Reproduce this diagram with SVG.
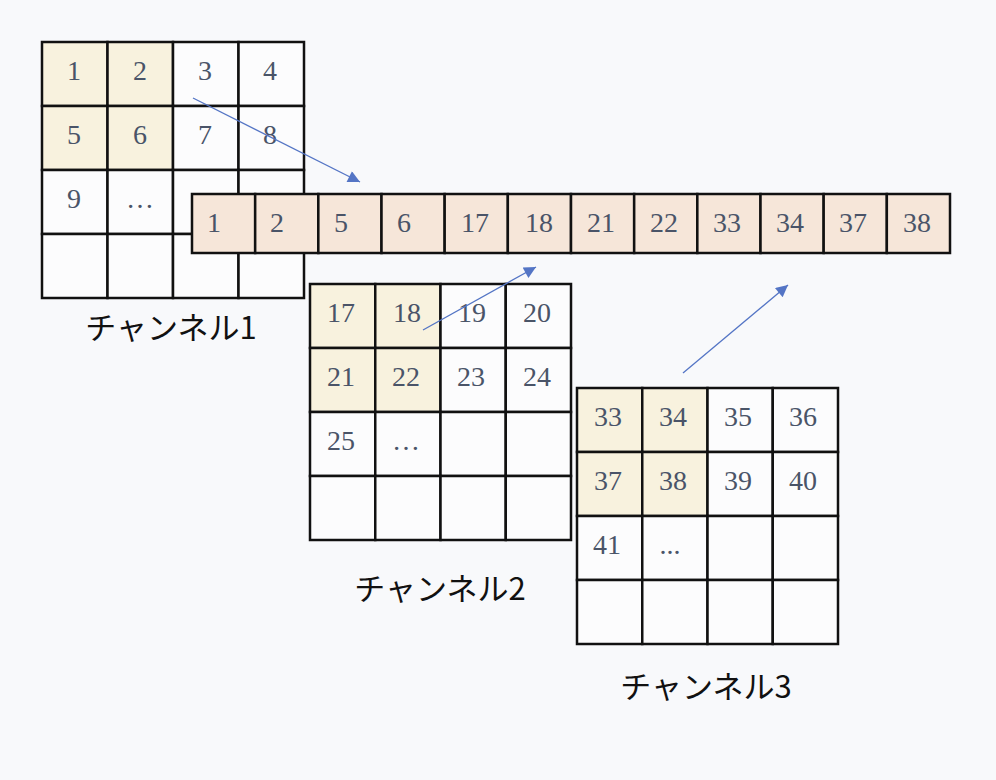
<svg xmlns="http://www.w3.org/2000/svg" width="996" height="780" viewBox="0 0 996 780">
<defs>
<style>
.c{fill:#fcfcfd;stroke:#111;stroke-width:2.5}
.h{fill:#f8f2de;stroke:#111;stroke-width:2.5}
.s{fill:#f6e6d9;stroke:#111;stroke-width:2.5}
.n{font-family:"Liberation Serif","Times New Roman",serif;font-size:28px;fill:#4a5468;text-anchor:middle}
.lb{font-family:"Noto Sans CJK JP","Noto Sans",sans-serif;font-size:31px;fill:#111;text-anchor:middle}
.a{stroke:#5475c5;stroke-width:1.3;fill:none;marker-end:url(#ah)}
</style>
<marker id="ah" viewBox="0 0 10 10" refX="10" refY="5" markerWidth="15" markerHeight="12" markerUnits="userSpaceOnUse" orient="auto">
<path d="M0,0L10,5L0,10z" fill="#5475c5"/>
</marker>
</defs>
<rect width="996" height="780" fill="#f8f9fb"/>

<g id="grid1">
<rect class="h" x="42" y="42" width="65.5" height="64"/>
<rect class="h" x="107.5" y="42" width="65.5" height="64"/>
<rect class="c" x="173" y="42" width="65.5" height="64"/>
<rect class="c" x="238.5" y="42" width="65.5" height="64"/>
<rect class="h" x="42" y="106" width="65.5" height="64"/>
<rect class="h" x="107.5" y="106" width="65.5" height="64"/>
<rect class="c" x="173" y="106" width="65.5" height="64"/>
<rect class="c" x="238.5" y="106" width="65.5" height="64"/>
<rect class="c" x="42" y="170" width="65.5" height="64"/>
<rect class="c" x="107.5" y="170" width="65.5" height="64"/>
<rect class="c" x="173" y="170" width="65.5" height="64"/>
<rect class="c" x="238.5" y="170" width="65.5" height="64"/>
<rect class="c" x="42" y="234" width="65.5" height="64"/>
<rect class="c" x="107.5" y="234" width="65.5" height="64"/>
<rect class="c" x="173" y="234" width="65.5" height="64"/>
<rect class="c" x="238.5" y="234" width="65.5" height="64"/>
<text class="n" x="74" y="80">1</text>
<text class="n" x="140" y="80">2</text>
<text class="n" x="205" y="80">3</text>
<text class="n" x="270" y="80">4</text>
<text class="n" x="74" y="144">5</text>
<text class="n" x="140" y="144">6</text>
<text class="n" x="205" y="144">7</text>
<text class="n" x="270" y="144">8</text>
<text class="n" x="74" y="208">9</text>
<text class="n" x="140" y="208">…</text>
<text class="lb" x="171" y="339">チャンネル1</text>
</g>

<g id="strip">
<rect class="s" x="192" y="194" width="63.17" height="59"/>
<rect class="s" x="255.17" y="194" width="63.17" height="59"/>
<rect class="s" x="318.33" y="194" width="63.17" height="59"/>
<rect class="s" x="381.5" y="194" width="63.17" height="59"/>
<rect class="s" x="444.67" y="194" width="63.17" height="59"/>
<rect class="s" x="507.83" y="194" width="63.17" height="59"/>
<rect class="s" x="571" y="194" width="63.17" height="59"/>
<rect class="s" x="634.17" y="194" width="63.17" height="59"/>
<rect class="s" x="697.33" y="194" width="63.17" height="59"/>
<rect class="s" x="760.5" y="194" width="63.17" height="59"/>
<rect class="s" x="823.67" y="194" width="63.17" height="59"/>
<rect class="s" x="886.83" y="194" width="63.17" height="59"/>
<text class="n" x="214" y="232">1</text>
<text class="n" x="277" y="232">2</text>
<text class="n" x="341" y="232">5</text>
<text class="n" x="404" y="232">6</text>
<text class="n" x="475" y="232">17</text>
<text class="n" x="539" y="232">18</text>
<text class="n" x="601" y="232">21</text>
<text class="n" x="664" y="232">22</text>
<text class="n" x="727" y="232">33</text>
<text class="n" x="790" y="232">34</text>
<text class="n" x="853" y="232">37</text>
<text class="n" x="917" y="232">38</text>
</g>

<g id="grid2">
<rect class="h" x="310" y="284" width="65.25" height="64"/>
<rect class="h" x="375.25" y="284" width="65.25" height="64"/>
<rect class="c" x="440.5" y="284" width="65.25" height="64"/>
<rect class="c" x="505.75" y="284" width="65.25" height="64"/>
<rect class="h" x="310" y="348" width="65.25" height="64"/>
<rect class="h" x="375.25" y="348" width="65.25" height="64"/>
<rect class="c" x="440.5" y="348" width="65.25" height="64"/>
<rect class="c" x="505.75" y="348" width="65.25" height="64"/>
<rect class="c" x="310" y="412" width="65.25" height="64"/>
<rect class="c" x="375.25" y="412" width="65.25" height="64"/>
<rect class="c" x="440.5" y="412" width="65.25" height="64"/>
<rect class="c" x="505.75" y="412" width="65.25" height="64"/>
<rect class="c" x="310" y="476" width="65.25" height="64"/>
<rect class="c" x="375.25" y="476" width="65.25" height="64"/>
<rect class="c" x="440.5" y="476" width="65.25" height="64"/>
<rect class="c" x="505.75" y="476" width="65.25" height="64"/>
<text class="n" x="341" y="322">17</text>
<text class="n" x="407" y="322">18</text>
<text class="n" x="472" y="322">19</text>
<text class="n" x="537" y="322">20</text>
<text class="n" x="341" y="386">21</text>
<text class="n" x="406" y="386">22</text>
<text class="n" x="471" y="386">23</text>
<text class="n" x="537" y="386">24</text>
<text class="n" x="341" y="450">25</text>
<text class="n" x="406" y="450">…</text>
<text class="lb" x="440" y="600">チャンネル2</text>
</g>

<g id="grid3">
<rect class="h" x="577" y="388" width="65.25" height="64"/>
<rect class="h" x="642.25" y="388" width="65.25" height="64"/>
<rect class="c" x="707.5" y="388" width="65.25" height="64"/>
<rect class="c" x="772.75" y="388" width="65.25" height="64"/>
<rect class="h" x="577" y="452" width="65.25" height="64"/>
<rect class="h" x="642.25" y="452" width="65.25" height="64"/>
<rect class="c" x="707.5" y="452" width="65.25" height="64"/>
<rect class="c" x="772.75" y="452" width="65.25" height="64"/>
<rect class="c" x="577" y="516" width="65.25" height="64"/>
<rect class="c" x="642.25" y="516" width="65.25" height="64"/>
<rect class="c" x="707.5" y="516" width="65.25" height="64"/>
<rect class="c" x="772.75" y="516" width="65.25" height="64"/>
<rect class="c" x="577" y="580" width="65.25" height="64"/>
<rect class="c" x="642.25" y="580" width="65.25" height="64"/>
<rect class="c" x="707.5" y="580" width="65.25" height="64"/>
<rect class="c" x="772.75" y="580" width="65.25" height="64"/>
<text class="n" x="608" y="426">33</text>
<text class="n" x="673" y="426">34</text>
<text class="n" x="738" y="426">35</text>
<text class="n" x="803" y="426">36</text>
<text class="n" x="608" y="490">37</text>
<text class="n" x="673" y="490">38</text>
<text class="n" x="738" y="490">39</text>
<text class="n" x="803" y="490">40</text>
<text class="n" x="607" y="554">41</text>
<text class="n" x="670" y="554" font-size="22">...</text>
<text class="lb" x="706" y="698">チャンネル3</text>
</g>

<g id="connectors">
<line class="a" x1="193" y1="98" x2="360" y2="182"/>
<line class="a" x1="423" y1="330" x2="536" y2="267"/>
<line class="a" x1="683" y1="373" x2="788" y2="285"/>
</g>
</svg>
